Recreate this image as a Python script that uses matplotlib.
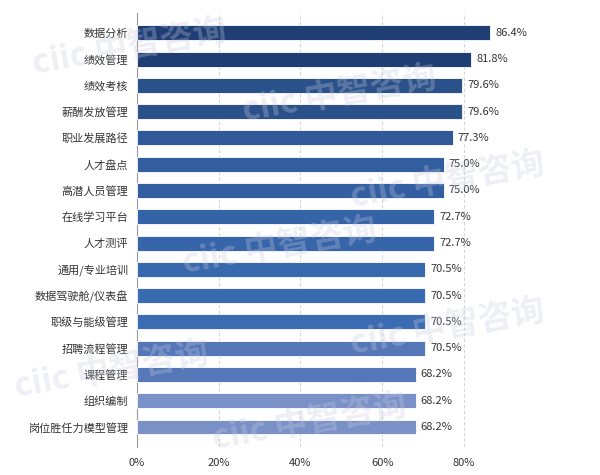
import matplotlib
matplotlib.use('Agg')
import matplotlib.pyplot as plt

plt.rcParams['font.family'] = ['Noto Sans CJK SC', 'DejaVu Sans']

categories = ['数据分析', '绩效管理', '绩效考核', '薪酬发放管理', '职业发展路径', '人才盘点',
              '高潜人员管理', '在线学习平台', '人才测评', '通用/专业培训', '数据驾驶舱/仪表盘',
              '职级与能级管理', '招聘流程管理', '课程管理', '组织编制', '岗位胜任力模型管理']
values = [86.4, 81.8, 79.6, 79.6, 77.3, 75.0, 75.0, 72.7, 72.7, 70.5, 70.5, 70.5, 70.5, 68.2, 68.2, 68.2]
colors = ['#1f3f74', '#1f3f74', '#2a5189', '#2a5189', '#30599a', '#325e9f', '#335fa2', '#3563a7',
          '#3665aa', '#3868ae', '#3a6ab1', '#3b6cb3', '#5577b8', '#5678b9', '#7a91c8', '#7a91c8']
xticks = [0, 20, 40, 60, 80]

fig = plt.figure(figsize=(6, 4.75), dpi=100)
ax = fig.add_axes([0.228, 0.059, 0.75, 0.914])

y = list(range(len(categories)))
ax.barh(y, values, height=0.57, color=colors, edgecolor='white', linewidth=0.6, zorder=3)
for yi, v in zip(y, values):
    ax.text(v + 1.2, yi, f'{v:.1f}%', va='center', ha='left', fontsize=8, color='#333333', zorder=4)

ax.set_ylim(len(categories) - 0.24, -0.76)
ax.set_xlim(0, 110)
ax.set_yticks(y)
ax.set_yticklabels(categories, fontsize=8, color='#333333')
ax.set_xticks(xticks)
ax.set_xticklabels([f'{t}%' for t in xticks], fontsize=8, color='#333333')
ax.tick_params(length=0, pad=8)
ax.tick_params(axis='y', pad=6)
for t in xticks[1:]:
    ax.axvline(t, color='#d5d5d5', linestyle=(0, (3, 2)), linewidth=0.8, zorder=1)
for s in ['top', 'right', 'bottom']:
    ax.spines[s].set_visible(False)
ax.spines['left'].set_color('#999999')
ax.spines['left'].set_linewidth(0.8)

# faint watermark, kept inside the figure
marks = [(0.05, 0.90), (0.40, 0.80), (0.58, 0.62), (0.30, 0.48), (0.02, 0.22), (0.35, 0.11), (0.58, 0.31)]
for mx, my in marks:
    fig.text(mx, my, 'ciic 中智咨询', fontsize=24, fontweight='bold', color='#c9cbe0',
             alpha=0.3, rotation=10, ha='left', va='center', zorder=0)

fig.savefig('out.png', dpi=100)
